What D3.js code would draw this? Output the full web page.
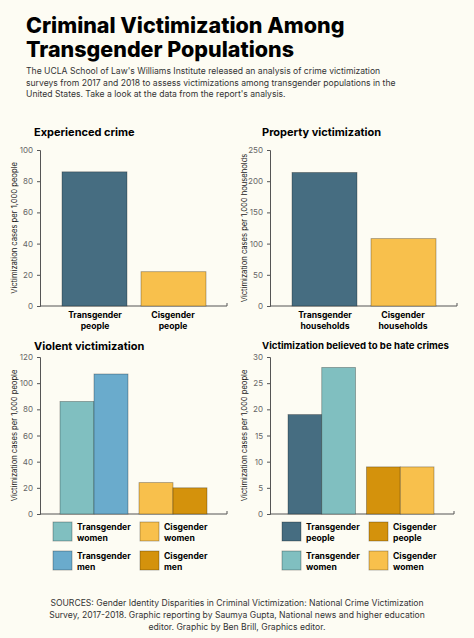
<!DOCTYPE html>
<html lang="en">
<head>
<meta charset="UTF-8">
<title>Criminal Victimization</title>
<script src="https://cdn.jsdelivr.net/npm/d3@7"></script>
<style>
  body { margin: 0; background: #fdfcf3; font-family: "Inter", "Liberation Sans", sans-serif; }
</style>
</head>
<body>
<script>
// data
var crimeLabels = ["Transgender people", "Cisgender people"];
var crimeValues = [86, 22];
var propertyLabels = ["Transgender households", "Cisgender households"];
var propertyValues = [214, 108];
var violentLabels = ["Transgender women", "Transgender men", "Cisgender women", "Cisgender men"];
var violentValues = [86, 107, 24, 20];
var hateLabels = ["Transgender people", "Transgender women", "Cisgender people", "Cisgender women"];
var hateValues = [19, 28, 9, 9];

var C = { dark: "#466d81", yellow: "#f8c04c", teal: "#80bfc0", blue: "#6aabcc", gold: "#d4920c" };

var svg = d3.select("body").append("svg").attr("width", 474).attr("height", 638);
svg.append("rect").attr("width", 474).attr("height", 638).attr("fill", "#fdfcf3");

svg.append("text").attr("x", 26).attr("y", 33).attr("font-size", 21.5).attr("font-weight", 800).text("Criminal Victimization Among");
svg.append("text").attr("x", 26).attr("y", 57).attr("font-size", 21.5).attr("font-weight", 800).text("Transgender Populations");
["The UCLA School of Law's Williams Institute released an analysis of crime victimization",
 "surveys from 2017 and 2018 to assess victimizations among transgender populations in the",
 "United States. Take a look at the data from the report's analysis."].forEach(function(t, i) {
  svg.append("text").attr("x", 26).attr("y", 74 + i * 11.5).attr("font-size", 8.6).attr("fill", "#333").text(t);
});
["SOURCES: Gender Identity Disparities in Criminal Victimization: National Crime Victimization",
 "Survey, 2017-2018. Graphic reporting by Saumya Gupta, National news and higher education",
 "editor. Graphic by Ben Brill, Graphics editor."].forEach(function(t, i) {
  svg.append("text").attr("x", 237).attr("y", 606 + i * 12).attr("text-anchor", "middle").attr("font-size", 8.6).attr("fill", "#333").text(t);
});

function chart(o) {
  var g = svg.append("g");
  var y = d3.scaleLinear().domain([0, o.max]).range([o.y0, o.y1]);
  g.append("text").attr("x", o.tx).attr("y", o.ty).attr("font-size", o.tsize || 11).attr("font-weight", 700).text(o.title);
  var ax = g.append("g").attr("transform", "translate(" + o.ax + ",0)")
    .call(d3.axisLeft(y).ticks(o.max / o.step).tickSize(3).tickPadding(4));
  ax.select(".domain").attr("stroke", "#555");
  ax.selectAll("text").attr("font-size", 8).attr("fill", "#666").attr("font-family", "Inter, sans-serif");
  ax.selectAll("line").attr("stroke", "#555");
  g.append("line").attr("x1", o.ax).attr("x2", o.xend).attr("y1", o.y0).attr("y2", o.y0).attr("stroke", "#555");
  g.append("line").attr("x1", o.xend).attr("x2", o.xend).attr("y1", o.y0).attr("y2", o.y0 - 3).attr("stroke", "#555");
  g.append("text").attr("transform", "translate(" + (o.ax - 23) + "," + ((o.y0 + o.y1) / 2) + ") rotate(-90)")
    .attr("text-anchor", "middle").attr("font-size", 7.6).attr("fill", "#222").text(o.ylabel);
  var x = d3.scaleBand().domain(d3.range(o.values.length)).range([o.bx0, o.bx1]).padding(0);
  g.selectAll("rect.bar").data(o.values).enter().append("rect")
    .attr("x", function(d, i) { return x(i) + (o.gaps ? o.gaps[i] : 0); })
    .attr("width", x.bandwidth() - (o.shrink || 0))
    .attr("y", function(d) { return y(d); })
    .attr("height", function(d) { return o.y0 - y(d); })
    .attr("fill", function(d, i) { return o.colors[i]; })
    .attr("stroke", "rgba(0,0,0,0.35)").attr("stroke-width", 0.8);
  return { x: x, g: g };
}

function wrap2(g, label, x, yy, anchor) {
  var parts = label.split(" ");
  var t = g.append("text").attr("font-size", 8.6).attr("font-weight", 700).attr("text-anchor", anchor);
  parts.forEach(function(p, i) { t.append("tspan").attr("x", x).attr("y", yy + i * 11).text(p); });
}

var c1 = chart({ title: "Experienced crime", tx: 34, ty: 136, max: 100, step: 20, y0: 306, y1: 150, ax: 40, xend: 227,
  bx0: 62, bx1: 206, values: crimeValues, colors: [C.dark, C.yellow], gaps: [0, 7], shrink: 7,
  ylabel: "Victimization cases per 1,000 people" });
crimeLabels.forEach(function(l, i) { wrap2(c1.g, l, c1.x(i) + c1.x.bandwidth() / 2 + (i ? 3 : -3), 318, "middle"); });

var c2 = chart({ title: "Property victimization", tx: 262, ty: 136, max: 250, step: 50, y0: 306, y1: 150, ax: 270, xend: 457,
  bx0: 292, bx1: 436, values: propertyValues, colors: [C.dark, C.yellow], gaps: [0, 7], shrink: 7,
  ylabel: "Victimization cases per 1,000 households" });
propertyLabels.forEach(function(l, i) { wrap2(c2.g, l, c2.x(i) + c2.x.bandwidth() / 2 + (i ? 3 : -3), 318, "middle"); });

var c3 = chart({ title: "Violent victimization", tx: 34, ty: 350, max: 120, step: 20, y0: 514, y1: 357, ax: 40, xend: 227,
  bx0: 60, bx1: 196, values: violentValues, colors: [C.teal, C.blue, C.yellow, C.gold], gaps: [0, 0, 11, 11],
  ylabel: "Victimization cases per 1,000 people" });
var c4 = chart({ title: "Victimization believed to be hate crimes", tx: 262, ty: 349, tsize: 9.6, max: 30, step: 5, y0: 514, y1: 357, ax: 270, xend: 454,
  bx0: 288, bx1: 423, values: hateValues, colors: [C.dark, C.teal, C.gold, C.yellow], gaps: [0, 0, 11, 11],
  ylabel: "Victimization cases per 1,000 people" });

function legend(g, labels, colors, positions) {
  labels.forEach(function(l, i) {
    var p = positions[i];
    g.append("rect").attr("x", p[0]).attr("y", p[1]).attr("width", 19).attr("height", 19)
      .attr("fill", colors[i]).attr("stroke", "rgba(0,0,0,0.35)").attr("stroke-width", 0.8);
    wrap2(g, l, p[0] + 24, p[1] + 8, "start");
  });
}
legend(c3.g, violentLabels, [C.teal, C.blue, C.yellow, C.gold], [[53, 522], [53, 551], [140, 522], [140, 551]]);
legend(c4.g, hateLabels, [C.dark, C.teal, C.gold, C.yellow], [[282, 522], [282, 551], [369, 522], [369, 551]]);
</script>
</body>
</html>
